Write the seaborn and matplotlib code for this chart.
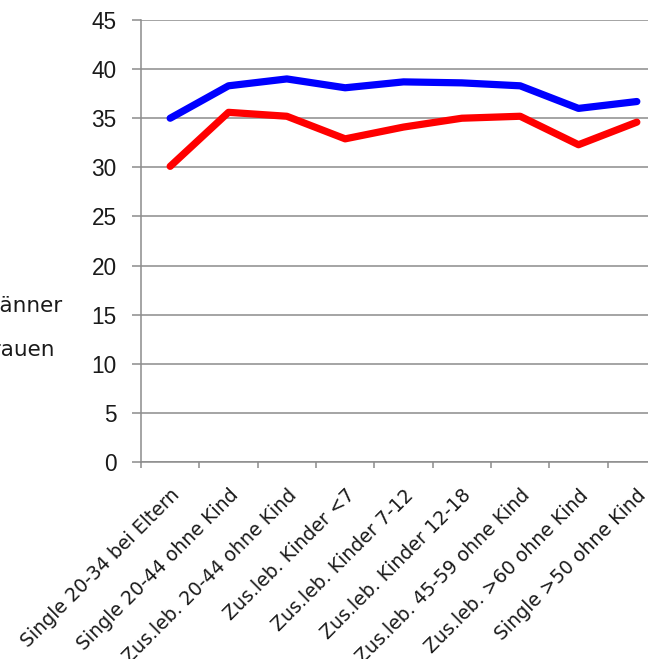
import numpy as np
import pandas as pd
import matplotlib
matplotlib.use("Agg")
import matplotlib.pyplot as plt
import seaborn as sns

categories = [
    "Single 20-34 bei Eltern",
    "Single 20-44 ohne Kind",
    "Zus.leb. 20-44 ohne Kind",
    "Zus.leb. Kinder <7",
    "Zus.leb. Kinder 7-12",
    "Zus.leb. Kinder 12-18",
    "Zus.leb. 45-59 ohne Kind",
    "Zus.leb. >60 ohne Kind",
    "Single >50 ohne Kind",
]
maenner = [35.0, 38.3, 39.0, 38.1, 38.7, 38.6, 38.3, 36.0, 36.7]
frauen = [30.1, 35.6, 35.2, 32.9, 34.1, 35.0, 35.2, 32.3, 34.6]
series_names = ["Männer", "Frauen"]
y_ticks = [0, 5, 10, 15, 20, 25, 30, 35, 40, 45]

df = pd.DataFrame({
    "Kategorie": categories * 2,
    "Wert": maenner + frauen,
    "Gruppe": [series_names[0]] * len(categories) + [series_names[1]] * len(categories),
})

sns.set_style("white")
plt.rcParams["font.family"] = ["Liberation Sans", "DejaVu Sans"]

fig = plt.figure(figsize=(6.48, 6.59), dpi=100)
ax = fig.add_axes([141 / 648, 197 / 659, 525 / 648, 442 / 659])

sns.lineplot(
    data=df, x="Kategorie", y="Wert", hue="Gruppe",
    palette={"Männer": "#0000ff", "Frauen": "#ff0000"},
    linewidth=5.2, sort=False, ax=ax, legend=False, zorder=3,
)
for line in ax.lines:
    line.set_solid_capstyle("round")
    line.set_solid_joinstyle("round")

ax.set_xlim(-0.5, len(categories) - 0.5)
ax.set_ylim(0, 45)
ax.set_yticks(y_ticks)
ax.yaxis.grid(True, color="#8c8c8c", linewidth=1.1)
ax.set_axisbelow(True)
ax.set_xlabel("")
ax.set_ylabel("")

for side in ["top", "right"]:
    ax.spines[side].set_visible(False)
for side in ["left", "bottom"]:
    ax.spines[side].set_color("#8c8c8c")
    ax.spines[side].set_linewidth(1.1)

ax.set_xticks(range(len(categories)))
ax.set_xticklabels(categories, rotation=45, ha="right", rotation_mode="anchor",
                   fontsize=13.6, color="#1a1a1a", family="DejaVu Sans")
ax.set_xticks(np.arange(-0.5, len(categories)), minor=True)
ax.tick_params(axis="x", which="major", length=0, pad=17)
ax.tick_params(axis="x", which="minor", length=4.5, width=1.1, color="#8c8c8c", bottom=True)
ax.tick_params(axis="y", length=6.5, width=1.1, color="#8c8c8c", pad=11,
               labelsize=16.3, labelcolor="#1a1a1a", left=True)

handles = [plt.Line2D([], [], color="#0000ff", linewidth=5.2),
           plt.Line2D([], [], color="#ff0000", linewidth=5.2)]
fig.legend(handles, series_names, loc="center right",
           bbox_to_anchor=(63 / 648, 1 - 328 / 659),
           frameon=False, borderpad=0, borderaxespad=0,
           labelspacing=1.1, handlelength=2.0, handletextpad=0.8,
           labelcolor="#1a1a1a",
           prop={"family": "DejaVu Sans", "size": 15.5})

fig.savefig("out.png", dpi=100)
